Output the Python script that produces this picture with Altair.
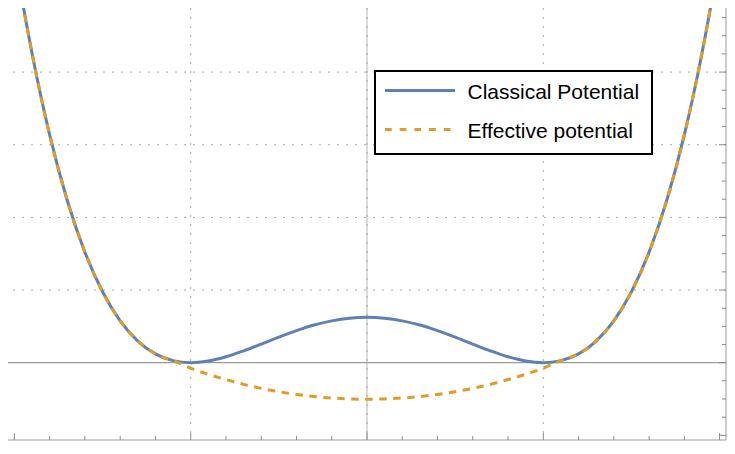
import altair as alt
import pandas as pd

# ---- data ----
x_classical = [-2.1, -2.0, -1.9, -1.8, -1.7, -1.6, -1.5, -1.4, -1.3, -1.2, -1.1, -1.0,
               -0.9, -0.8, -0.7, -0.6, -0.5, -0.4, -0.3, -0.2, -0.1, 0.0,
               0.1, 0.2, 0.3, 0.4, 0.5, 0.6, 0.7, 0.8, 0.9, 1.0,
               1.1, 1.2, 1.3, 1.4, 1.5, 1.6, 1.7, 1.8, 1.9, 2.0, 2.1]
v_classical = [7.27, 5.625, 4.258, 3.136, 2.233, 1.521, 0.977, 0.576, 0.298, 0.121, 0.028, 0.0,
               0.023, 0.081, 0.163, 0.256, 0.352, 0.441, 0.518, 0.576, 0.613, 0.625,
               0.613, 0.576, 0.518, 0.441, 0.352, 0.256, 0.163, 0.081, 0.023, 0.0,
               0.028, 0.121, 0.298, 0.576, 0.977, 1.521, 2.233, 3.136, 4.258, 5.625, 7.27]

x_effective = [-2.1, -2.0, -1.9, -1.8, -1.7, -1.6, -1.5, -1.4, -1.3, -1.2, -1.1, -1.05, -1.0,
               -0.9, -0.8, -0.7, -0.6, -0.5, -0.4, -0.3, -0.2, -0.1, 0.0,
               0.1, 0.2, 0.3, 0.4, 0.5, 0.6, 0.7, 0.8, 0.9, 1.0, 1.05,
               1.1, 1.2, 1.3, 1.4, 1.5, 1.6, 1.7, 1.8, 1.9, 2.0, 2.1]
v_effective = [7.27, 5.625, 4.258, 3.136, 2.233, 1.521, 0.977, 0.576, 0.298, 0.121, 0.028, -0.02, -0.075,
               -0.160, -0.232, -0.298, -0.353, -0.399, -0.437, -0.466, -0.486, -0.498, -0.503,
               -0.498, -0.486, -0.466, -0.437, -0.399, -0.353, -0.298, -0.232, -0.160, -0.075, -0.02,
               0.028, 0.121, 0.298, 0.576, 0.977, 1.521, 2.233, 3.136, 4.258, 5.625, 7.27]

series_names = ["Classical Potential", "Effective potential"]
series_colors = ["#5e81b5", "#e19c24"]

grid_x = [-1, 0, 1]
grid_y = [1, 2, 3, 4]
tick_x_major = [-2, -1, 0, 1, 2]
tick_x_minor = [-1.8, -1.6, -1.4, -1.2, -0.8, -0.6, -0.4, -0.2,
                0.2, 0.4, 0.6, 0.8, 1.2, 1.4, 1.6, 1.8]
tick_y_major = [-1, 0, 1, 2, 3, 4]
tick_y_minor = [-0.75, -0.5, -0.25, 0.25, 0.5, 0.75, 1.25, 1.5, 1.75, 2.25, 2.5, 2.75,
                3.25, 3.5, 3.75, 4.25, 4.5, 4.75]

# visible part of the frame (the page margins take 8 px on each side)
X_DOMAIN = [-2.0363, 2.0363]
Y_DOMAIN = [-1.064, 4.882]
W, H = 718, 432

xs = alt.Scale(domain=X_DOMAIN, nice=False, zero=False)
ys = alt.Scale(domain=Y_DOMAIN, nice=False, zero=False)

curves = pd.concat([
    pd.DataFrame({"x": x_classical, "v": v_classical, "s": series_names[0]}),
    pd.DataFrame({"x": x_effective, "v": v_effective, "s": series_names[1]}),
])

def df(col, vals):
    return pd.DataFrame({col: vals})

one = pd.DataFrame({"a": [0]})
frame_color = "#9a9a9a"

# axis lines
axis_x0 = alt.Chart(df("gx", [0])).mark_rule(color="#cfcfcf", strokeWidth=1.5).encode(
    x=alt.X("gx:Q", scale=xs, axis=None))
axis_y0 = alt.Chart(df("gy", [0])).mark_rule(color="#9a9a9a", strokeWidth=1.3).encode(
    y=alt.Y("gy:Q", scale=ys, axis=None))

# dotted grid
gridv = alt.Chart(df("gx", grid_x)).mark_rule(color="#a8a8a8", strokeWidth=1, strokeDash=[2, 7]).encode(
    x=alt.X("gx:Q", scale=xs, axis=None))
gridh = alt.Chart(df("gy", grid_y)).mark_rule(color="#a8a8a8", strokeWidth=1, strokeDash=[2, 7]).encode(
    y=alt.Y("gy:Q", scale=ys, axis=None))

# frame (right and bottom edges visible)
frame_r = alt.Chart(one).mark_rule(color=frame_color, strokeWidth=1).encode(
    x=alt.value(W), y=alt.value(0), y2=alt.value(H))
frame_b = alt.Chart(one).mark_rule(color=frame_color, strokeWidth=1).encode(
    y=alt.value(H), x=alt.value(0), x2=alt.value(W))

# inward frame ticks on bottom and right edges
tick_color = "#8a8a8a"
def xticks(vals, length):
    return alt.Chart(df("t", vals)).mark_rule(color=tick_color, strokeWidth=1).encode(
        x=alt.X("t:Q", scale=xs, axis=None), y=alt.value(H - length), y2=alt.value(H))

def yticks(vals, length):
    return alt.Chart(df("t", vals)).mark_rule(color=tick_color, strokeWidth=1).encode(
        y=alt.Y("t:Q", scale=ys, axis=None), x=alt.value(W - length), x2=alt.value(W))

ticks = [xticks(tick_x_major, 7), xticks(tick_x_minor, 4), yticks(tick_y_major, 7), yticks(tick_y_minor, 4)]

# curves
classical = alt.Chart(curves[curves.s == series_names[0]]).mark_line(
    color=series_colors[0], strokeWidth=3, interpolate="monotone", clip=True).encode(
    x=alt.X("x:Q", scale=xs, axis=None), y=alt.Y("v:Q", scale=ys, axis=None))
effective = alt.Chart(curves[curves.s == series_names[1]]).mark_line(
    color=series_colors[1], strokeWidth=3, strokeDash=[7.5, 6.5], interpolate="monotone", clip=True).encode(
    x=alt.X("x:Q", scale=xs, axis=None), y=alt.Y("v:Q", scale=ys, axis=None))

# legend (framed, Mathematica style)
OX, OY = 8, 8
leg_box = alt.Chart(one).mark_rect(fill="white", stroke="black", strokeWidth=2).encode(
    x=alt.value(375 - OX), x2=alt.value(652 - OX), y=alt.value(71 - OY), y2=alt.value(154 - OY))
leg_sym1 = alt.Chart(one).mark_rule(color=series_colors[0], strokeWidth=3).encode(
    x=alt.value(385 - OX), x2=alt.value(455 - OX), y=alt.value(90.5 - OY))
leg_sym2 = alt.Chart(one).mark_rule(color=series_colors[1], strokeWidth=3, strokeDash=[6.7, 8]).encode(
    x=alt.value(385 - OX), x2=alt.value(455 - OX), y=alt.value(129.5 - OY))
leg_txt1 = alt.Chart(one).mark_text(align="left", baseline="alphabetic", font="Liberation Sans",
                                    fontSize=21, color="black").encode(
    x=alt.value(467.5 - OX), y=alt.value(99.3 - OY), text=alt.value(series_names[0]))
leg_txt2 = alt.Chart(one).mark_text(align="left", baseline="alphabetic", font="Liberation Sans",
                                    fontSize=21, color="black").encode(
    x=alt.value(467.5 - OX), y=alt.value(137.7 - OY), text=alt.value(series_names[1]))

chart = alt.layer(
    axis_x0, axis_y0, gridv, gridh, frame_r, frame_b, *ticks, classical, effective,
    leg_box, leg_sym1, leg_sym2, leg_txt1, leg_txt2
).properties(
    width=W, height=H,
    padding={"left": 0, "top": 0, "right": 1, "bottom": 1},
    autosize=alt.AutoSizeParams(type="none"),
).configure_view(strokeWidth=0)

chart.save("out.html", embed_options={"renderer": "svg", "actions": False})
